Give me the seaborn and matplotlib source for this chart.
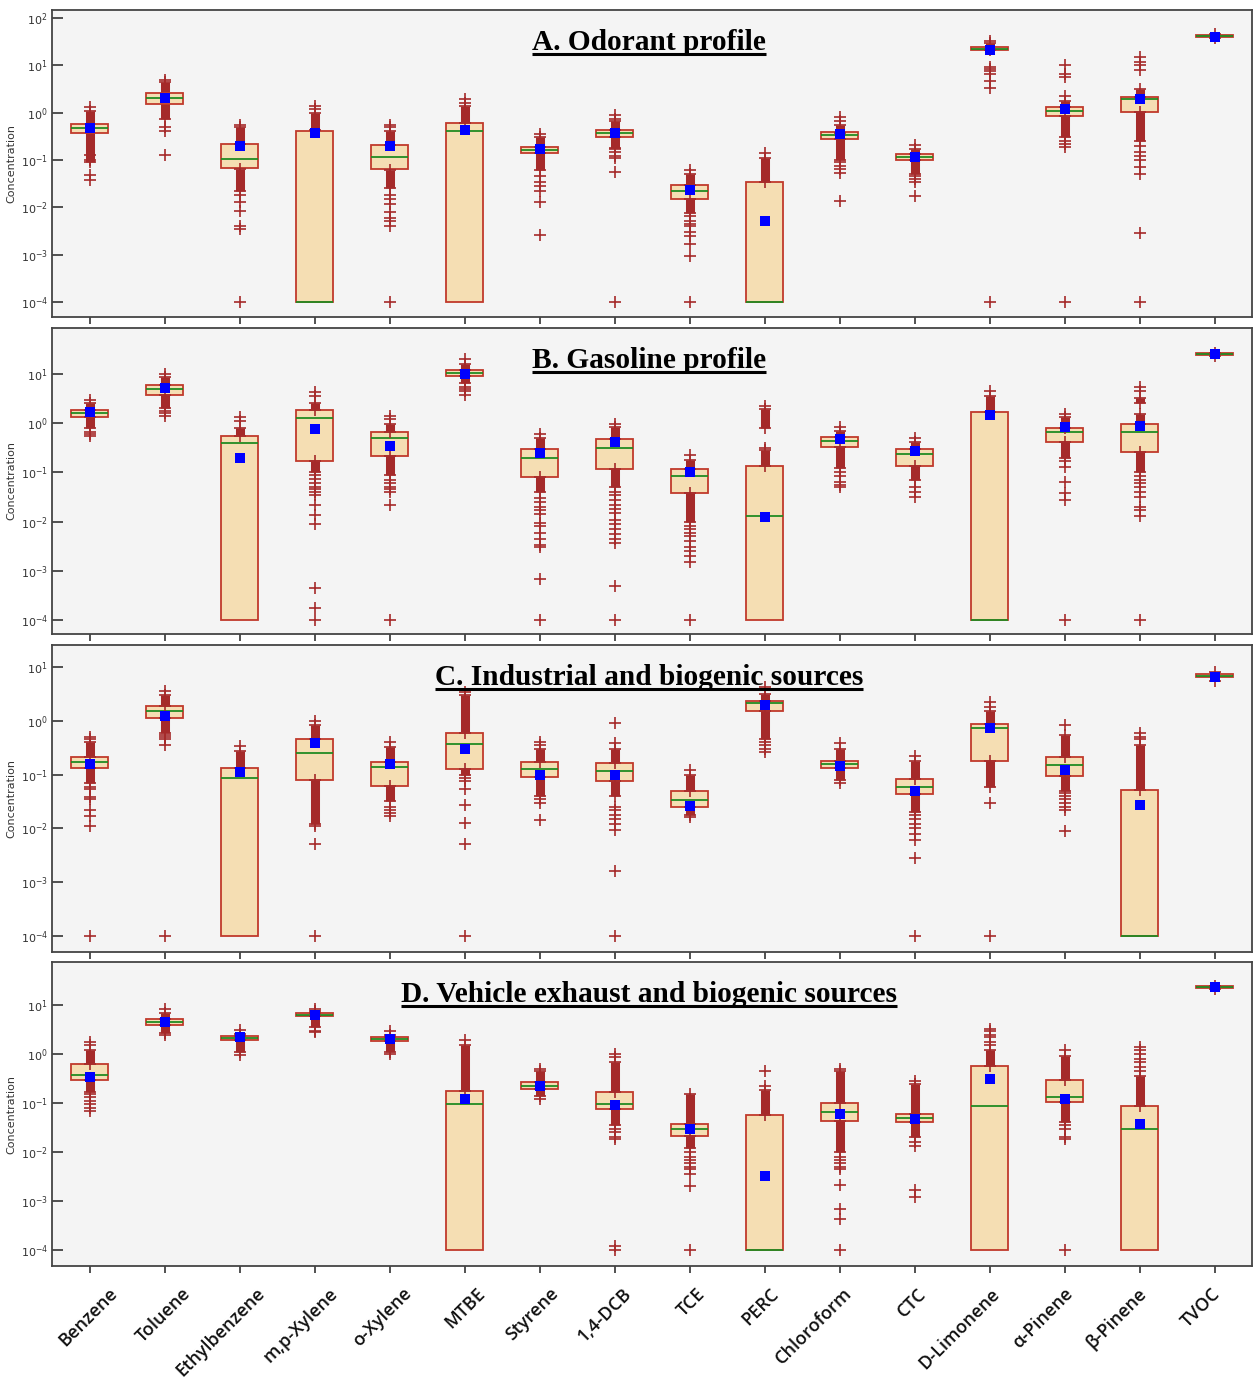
import matplotlib
matplotlib.use('Agg')
import matplotlib.pyplot as plt
import seaborn as sns
import pandas as pd
from matplotlib.lines import Line2D
from matplotlib.ticker import NullLocator, FixedLocator
import matplotlib.transforms as mtrans

categories = ["Benzene", "Toluene", "Ethylbenzene", "m,p-Xylene", "o-Xylene", "MTBE",
              "Styrene", "1,4-DCB", "TCE", "PERC", "Chloroform", "CTC", "D-Limonene",
              "α-Pinene", "β-Pinene", "TVOC"]
titles = ["A. Odorant profile", "B. Gasoline profile",
          "C. Industrial and biogenic sources", "D. Vehicle exhaust and biogenic sources"]

# ---------------- Panel A ----------------
A_q1 = [0.37, 1.5, 0.067, 1e-4, 0.064, 1e-4, 0.138, 0.31, 0.0148, 1e-4, 0.274, 0.098, 20.7, 0.85, 1.05, 40]
A_med = [0.47, 2.0, 0.104, 1e-4, 0.114, 0.40, 0.163, 0.38, 0.022, 1e-4, 0.33, 0.115, 22.5, 1.1, 1.9, 41.5]
A_q3 = [0.58, 2.57, 0.218, 0.41, 0.205, 0.59, 0.19, 0.44, 0.0297, 0.035, 0.385, 0.132, 24.8, 1.3, 2.17, 43]
A_mean = [0.48, 2.05, 0.2, 0.38, 0.2, 0.43, 0.17, 0.38, 0.023, 0.0052, 0.35, 0.115, 21, 1.2, 1.97, 40.5]
A_bands = [[(0.09, 1.1)], [(0.75, 4.5)], [(0.22, 0.5), (0.022, 0.065)], [(0.42, 1.0)],
           [(0.21, 0.4), (0.025, 0.062)], [(0.6, 1.4)], [(0.19, 0.3), (0.06, 0.138)],
           [(0.44, 0.65), (0.18, 0.31)], [(0.03, 0.05), (0.0075, 0.015)], [(0.035, 0.11)],
           [(0.38, 0.55), (0.1, 0.274)], [(0.132, 0.17), (0.05, 0.098)], [(20.7, 30)],
           [(1.3, 1.8), (0.3, 0.85)], [(2.17, 3.2), (0.25, 1.05)], []]
A_pts = [[1.3, 0.13, 0.1, 0.048, 0.038],
         [5.0, 0.5, 0.4, 0.13],
         [0.55, 0.018, 0.013, 0.0085, 0.004, 0.0035, 1e-4],
         [1.2, 1.35],
         [0.5, 0.55, 0.018, 0.015, 0.012, 0.008, 0.006, 0.005, 0.004, 1e-4],
         [1.6, 1.9],
         [0.35, 0.045, 0.035, 0.028, 0.022, 0.013, 0.0026],
         [0.75, 0.9, 0.17, 0.15, 0.12, 0.108, 0.057, 1e-4],
         [0.06, 0.0065, 0.005, 0.0045, 0.004, 0.003, 0.0025, 0.0017, 0.00095, 1e-4],
         [0.14],
         [0.65, 0.8, 0.09, 0.075, 0.065, 0.052, 0.0136],
         [0.21, 0.045, 0.04, 0.035, 0.0175],
         [33, 9.4, 8.5, 7.6, 6.5, 4.7, 3.3, 1e-4],
         [2.2, 5.8, 6.5, 10.2, 0.25, 0.22, 0.19, 1e-4],
         [8, 10, 12, 15, 0.2, 0.15, 0.12, 0.1, 0.07, 0.05, 0.0028, 1e-4],
         [45, 37]]

# ---------------- Panel B ----------------
B_q1 = [1.36, 3.7, 1e-4, 0.168, 0.21, 9.2, 0.079, 0.116, 0.039, 1e-4, 0.32, 0.135, 1e-4, 0.41, 0.26, 24]
B_med = [1.58, 4.9, 0.39, 1.26, 0.49, 10.6, 0.2, 0.31, 0.085, 0.0132, 0.43, 0.234, 1e-4, 0.65, 0.65, 25]
B_q3 = [1.85, 5.8, 0.557, 1.83, 0.675, 12, 0.295, 0.48, 0.117, 0.135, 0.52, 0.295, 1.66, 0.81, 0.96, 26]
B_mean = [1.71, 5.1, 0.2, 0.75, 0.344, 9.8, 0.245, 0.42, 0.103, 0.0123, 0.48, 0.27, 1.47, 0.83, 0.89, 25]
B_bands = [[(1.85, 2.6), (0.8, 1.36)], [(5.8, 8.8), (2.0, 3.7)], [(0.557, 0.8)],
           [(1.83, 2.6), (0.1, 0.168)], [(0.675, 0.95), (0.09, 0.21)], [(12, 16), (6.5, 9.2)],
           [(0.295, 0.5), (0.04, 0.079)], [(0.48, 0.85), (0.05, 0.116)],
           [(0.117, 0.18), (0.01, 0.039)], [(0.135, 0.28), (0.8, 1.9)],
           [(0.52, 0.7), (0.12, 0.32)], [(0.295, 0.42), (0.07, 0.135)], [(1.66, 3.6)],
           [(0.81, 1.3), (0.2, 0.41)], [(0.96, 1.5), (2.5, 3.2), (0.1, 0.26)], []]
B_pts = [[3.0, 0.65, 0.6, 0.55],
         [10, 1.8, 1.6, 1.4],
         [1.1, 1.35],
         [3.5, 4.2, 0.09, 0.075, 0.06, 0.05, 0.045, 0.04, 0.034, 0.022, 0.0135, 0.0089, 0.00044, 0.00018, 1e-4],
         [1.2, 1.4, 0.07, 0.06, 0.05, 0.045, 0.04, 0.022, 1e-4],
         [20, 5.5, 5.0, 4.5, 3.8],
         [0.6, 0.03, 0.025, 0.02, 0.017, 0.014, 0.0093, 0.008, 0.006, 0.0045, 0.0033, 0.003, 0.0007, 1e-4],
         [0.95, 0.04, 0.035, 0.028, 0.022, 0.018, 0.015, 0.011, 0.009, 0.007, 0.0055, 0.0045, 0.0037, 0.0005, 1e-4],
         [0.23, 0.008, 0.007, 0.006, 0.005, 0.004, 0.003, 0.0025, 0.002, 0.0015, 1e-4],
         [2.2, 0.31],
         [0.85, 0.1, 0.085, 0.065, 0.055, 0.05],
         [0.5, 0.05, 0.04, 0.032],
         [4.5],
         [1.55, 0.17, 0.13, 0.064, 0.039, 0.028, 1e-4],
         [4.5, 5.5, 0.085, 0.07, 0.06, 0.05, 0.04, 0.032, 0.02, 0.017, 0.013, 1e-4],
         [27, 23]]

# ---------------- Panel C ----------------
C_q1 = [0.13, 1.11, 1e-4, 0.08, 0.062, 0.126, 0.089, 0.076, 0.0246, 1.52, 0.13, 0.043, 0.18, 0.093, 1e-4, 6.4]
C_med = [0.174, 1.5, 0.085, 0.25, 0.137, 0.365, 0.127, 0.117, 0.034, 2.1, 0.155, 0.06, 0.75, 0.148, 1e-4, 6.9]
C_q3 = [0.215, 1.9, 0.13, 0.46, 0.174, 0.6, 0.174, 0.162, 0.05, 2.33, 0.18, 0.083, 0.86, 0.215, 0.052, 7.3]
C_mean = [0.155, 1.24, 0.11, 0.39, 0.155, 0.3, 0.1, 0.1, 0.026, 2.0, 0.143, 0.05, 0.72, 0.122, 0.027, 6.6]
C_bands = [[(0.215, 0.4), (0.07, 0.13)], [(1.9, 3.0), (0.6, 1.11)], [(0.13, 0.28)],
           [(0.46, 0.85), (0.012, 0.08)], [(0.174, 0.33), (0.032, 0.062)], [(0.6, 3.0), (0.1, 0.126)],
           [(0.174, 0.3), (0.04, 0.089)], [(0.162, 0.3), (0.04, 0.076)], [(0.05, 0.1), (0.018, 0.0246)],
           [(2.33, 3.2), (0.45, 1.52)], [(0.18, 0.3), (0.08, 0.13)], [(0.083, 0.18), (0.02, 0.043)],
           [(0.86, 1.5), (0.06, 0.18)], [(0.215, 0.55), (0.05, 0.093)], [(0.052, 0.35)], []]
C_pts = [[0.45, 0.5, 0.06, 0.055, 0.038, 0.035, 0.022, 0.017, 0.011, 1e-4],
         [3.6, 0.55, 0.5, 0.45, 0.36, 1e-4],
         [0.34],
         [1.0, 0.011, 0.0052, 1e-4],
         [0.4, 0.025, 0.022, 0.019, 0.017],
         [3.4, 0.085, 0.075, 0.054, 0.027, 0.0125, 0.0051, 1e-4],
         [0.36, 0.4, 0.035, 0.03, 0.014],
         [0.38, 0.92, 0.025, 0.022, 0.018, 0.015, 0.012, 0.0095, 0.0016, 1e-4],
         [0.12, 0.016],
         [4.2, 0.4, 0.35, 0.3, 0.26],
         [0.38, 0.07],
         [0.22, 0.018, 0.015, 0.012, 0.01, 0.008, 0.0062, 0.0028, 1e-4],
         [1.8, 2.2, 0.03, 1e-4],
         [0.84, 0.045, 0.04, 0.035, 0.03, 0.025, 0.022, 0.0091],
         [0.45, 0.5, 0.6],
         [8.0, 5.6]]

# ---------------- Panel D ----------------
D_q1 = [0.29, 3.9, 1.9, 5.9, 1.82, 1e-4, 0.195, 0.074, 0.021, 1e-4, 0.043, 0.041, 1e-4, 0.107, 1e-4, 22]
D_med = [0.367, 4.5, 2.1, 6.4, 2.0, 0.095, 0.22, 0.095, 0.029, 1e-4, 0.065, 0.05, 0.087, 0.135, 0.029, 23]
D_q3 = [0.615, 5.2, 2.33, 6.8, 2.25, 0.178, 0.27, 0.165, 0.037, 0.057, 0.098, 0.059, 0.575, 0.3, 0.087, 24]
D_mean = [0.334, 4.6, 2.2, 6.3, 2.0, 0.12, 0.22, 0.089, 0.029, 0.0032, 0.059, 0.047, 0.31, 0.12, 0.037, 23]
D_bands = [[(0.615, 1.2), (0.17, 0.29)], [(5.2, 7.0), (2.7, 3.9)], [(2.33, 2.6), (1.1, 1.9)],
           [(6.8, 7.5), (3.5, 5.9)], [(2.25, 2.5), (1.1, 1.82)], [(0.178, 1.5)],
           [(0.27, 0.45), (0.14, 0.195)], [(0.165, 0.7), (0.035, 0.074)], [(0.037, 0.15), (0.012, 0.021)],
           [(0.057, 0.18)], [(0.098, 0.45), (0.01, 0.043)], [(0.059, 0.25), (0.02, 0.041)],
           [(0.575, 1.2)], [(0.3, 0.9), (0.04, 0.107)], [(0.087, 0.35)], []]
D_pts = [[1.5, 1.8, 0.15, 0.13, 0.11, 0.095, 0.08, 0.07],
         [8.5, 2.4],
         [3.1, 0.95],
         [8.5, 3.0, 2.8],
         [2.9, 1.0],
         [1.9],
         [0.5, 0.12],
         [0.85, 1.0, 0.03, 0.025, 0.02, 0.018, 0.00012, 0.0001],
         [0.01, 0.008, 0.007, 0.006, 0.005, 0.0045, 0.0035, 0.002, 1e-4],
         [0.22, 0.46],
         [0.5, 0.008, 0.007, 0.006, 0.005, 0.0045, 0.0021, 0.00067, 0.00043, 1e-4],
         [0.28, 0.016, 0.013, 0.0017, 0.0012],
         [1.5, 1.8, 2.2, 2.5, 3.0, 3.3],
         [1.2, 0.035, 0.03, 0.02, 0.018, 1e-4],
         [0.45, 0.55, 0.7, 0.8, 1.0, 1.2, 1.4],
         [25, 21]]

panels = [
    (A_q1, A_med, A_q3, A_mean, A_bands, A_pts),
    (B_q1, B_med, B_q3, B_mean, B_bands, B_pts),
    (C_q1, C_med, C_q3, C_mean, C_bands, C_pts),
    (D_q1, D_med, D_q3, D_mean, D_bands, D_pts),
]

# ---------------- styling / layout ----------------
sns.set_style('white')
plt.rcParams['font.family'] = ['DejaVu Sans']

W, H = 1256, 1390
fig = plt.figure(figsize=(W / 100, H / 100), dpi=100)
panel_px = [(10, 317), (328, 634), (645, 952), (962, 1266)]
ylog = [(-4.32, 2.17), (-4.28, 1.93), (-4.30, 1.41), (-4.33, 1.88)]
ytop_exp = [2, 1, 1, 1]

BOX_FACE = '#f5deb3'
BOX_EDGE = '#c0392b'
MED = '#228b22'
OUT = '#a52a2a'
MEANC = '#0000ff'
BG = '#f4f4f4'

title_artists = []
for k, (q1, med, q3, mean, bands, pts) in enumerate(panels):
    top, bot = panel_px[k]
    hpx = bot - top
    ax = fig.add_axes([52 / W, 1 - bot / H, 1200 / W, hpx / H])
    ax.set_facecolor(BG)
    ax.set_yscale('log')

    # dense outlier bands
    for i, bl in enumerate(bands):
        for lo, hi in bl:
            ax.vlines(i, lo, hi, color=OUT, lw=6.5, zorder=2)

    # boxes
    stats = [dict(q1=q1[i], med=med[i], q3=q3[i], whislo=q1[i], whishi=q3[i], fliers=[])
             for i in range(len(categories))]
    ax.bxp(stats, positions=list(range(len(categories))), widths=0.5, patch_artist=True,
           showfliers=False, showcaps=False, manage_ticks=False, zorder=3,
           boxprops=dict(facecolor=BOX_FACE, edgecolor=BOX_EDGE, linewidth=1.3),
           medianprops=dict(color=MED, linewidth=1.3),
           whiskerprops=dict(linewidth=0))

    # isolated outliers (+ band ends)
    rows = []
    for i, pl in enumerate(pts):
        for v in pl:
            rows.append((i, v))
    for i, bl in enumerate(bands):
        for lo, hi in bl:
            rows.append((i, lo))
            rows.append((i, hi))
    df = pd.DataFrame(rows, columns=['x', 'y'])
    sns.scatterplot(data=df, x='x', y='y', marker='+', color=OUT, s=85, linewidth=1.2,
                    ax=ax, zorder=4, legend=False)

    # means
    dm = pd.DataFrame({'x': list(range(len(categories))), 'y': mean})
    sns.scatterplot(data=dm, x='x', y='y', marker='s', color=MEANC, s=55, linewidth=0,
                    ax=ax, zorder=5, legend=False)

    ax.set_xlim(-0.5, len(categories) - 0.5)
    ax.set_ylim(10 ** ylog[k][0], 10 ** ylog[k][1])
    exps = list(range(-4, ytop_exp[k] + 1))
    ax.yaxis.set_major_locator(FixedLocator([10.0 ** e for e in exps]))
    ax.yaxis.set_minor_locator(NullLocator())
    ax.set_yticklabels([f'$10^{{{e}}}$' for e in exps])
    ax.set_xticks(list(range(len(categories))))
    ax.set_xticklabels([])
    ax.tick_params(axis='y', direction='in', length=8, width=1.2, color='#333333',
                   labelsize=8, labelcolor='#333333', left=True, pad=3)
    ax.tick_params(axis='x', direction='out', length=5, width=1.2, color='#333333', bottom=True)
    if k == 3:
        base_tr = mtrans.blended_transform_factory(ax.transData, ax.transAxes)
        for i, c in enumerate(categories):
            dx = (25 - 1.5 * i) / 100.0
            lab_tr = base_tr + mtrans.ScaledTranslation(dx, -0.25, fig.dpi_scale_trans)
            ax.text(i, 0, c, transform=lab_tr,
                    rotation=45, rotation_mode='anchor', ha='right', va='center',
                    fontsize=13, fontfamily='Open Sans', fontweight='semibold', color='#111111')
    ax.set_xlabel('')
    ax.set_ylabel('Concentration', fontsize=8, color='#333333', labelpad=3)
    for s in ax.spines.values():
        s.set_color('#444444')
        s.set_linewidth(1.3)

    t = ax.text(0.4975, 1 - 40 / hpx, titles[k], transform=ax.transAxes, ha='center',
                va='baseline', fontsize=21.2, fontfamily='Liberation Serif', fontweight='bold',
                color='black', zorder=6)
    title_artists.append((t, H - top - 40))

fig.canvas.draw()
renderer = fig.canvas.get_renderer()
for t, base_px in title_artists:
    bb = t.get_window_extent(renderer)
    y = (base_px - 3.5) / H
    fig.add_artist(Line2D([bb.x0 / W, bb.x1 / W], [y, y], transform=fig.transFigure,
                          color='black', lw=2.2, solid_capstyle='butt'))

fig.savefig('out.png', dpi=100, facecolor='white')
